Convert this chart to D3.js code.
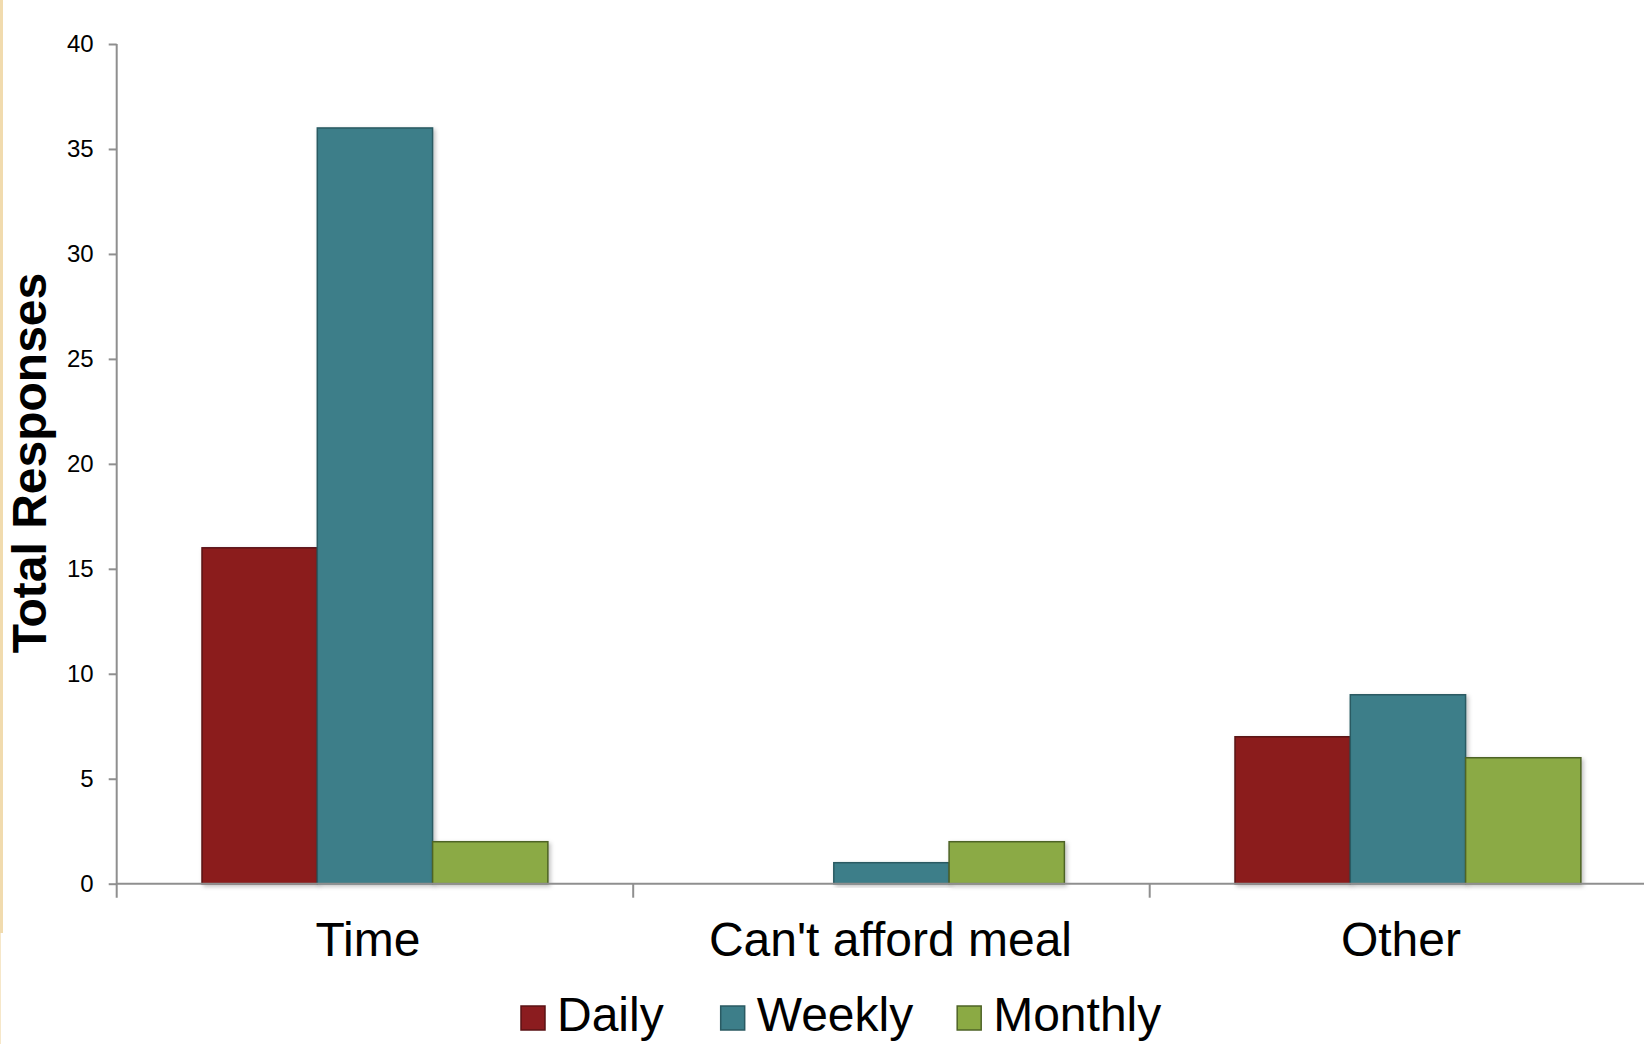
<!DOCTYPE html>
<html>
<head>
<meta charset="utf-8">
<script src="https://cdn.jsdelivr.net/npm/d3@7"></script>
<style>
  html, body { margin: 0; padding: 0; background: #ffffff; }
  svg { display: block; font-family: "Liberation Sans", Arial, sans-serif; }
</style>
</head>
<body>
<svg id="chart" width="1644" height="1044"></svg>
<script>
// Reasons given for not eating, by meal frequency
const categories = ["Time", "Can't afford meal", "Other"];
const seriesNames = ["Daily", "Weekly", "Monthly"];
const daily   = [16, 0, 7];
const weekly  = [36, 1, 9];
const monthly = [2, 2, 6];
const yTicks  = [0, 5, 10, 15, 20, 25, 30, 35, 40];

const fills   = { Daily: "#8b1c1f", Weekly: "#3d7e89", Monthly: "#8baa44" };
const strokes = { Daily: "#5a1214", Weekly: "#2a5a62", Monthly: "#4e6326" };

const seriesValues = { Daily: daily, Weekly: weekly, Monthly: monthly };
const rows = categories.map((c, i) => ({
  category: c,
  values: seriesNames.map(s => ({ series: s, value: seriesValues[s][i] }))
}));

const svg = d3.select("#chart");

// Side accent strip at the page edge
svg.append("rect").attr("x", 0).attr("y", 0).attr("width", 3).attr("height", 933).attr("fill", "#f1dbae");
svg.append("rect").attr("x", 0).attr("y", 933).attr("width", 1).attr("height", 111).attr("fill", "#f6e7c9");

const plotLeft = 116.7, plotBottom = 883.7, plotTop = 44;
const step = 516.5;

const x0 = d3.scaleBand().domain(categories).range([plotLeft, plotLeft + step * categories.length]).padding(0);
const x1 = d3.scaleBand().domain(seriesNames).range([0, x0.bandwidth()]).paddingInner(0).paddingOuter(0.74);
const y = d3.scaleLinear().domain([0, 40]).range([plotBottom, plotTop]);

// soft shadow under the bars
const defs = svg.append("defs");
const f = defs.append("filter").attr("id", "shadow").attr("x", "-10%").attr("y", "-10%").attr("width", "130%").attr("height", "130%");
f.append("feDropShadow").attr("dx", 2).attr("dy", 2).attr("stdDeviation", 2).attr("flood-color", "#000").attr("flood-opacity", 0.25);

// Bars
const groups = svg.append("g").selectAll("g").data(rows).join("g")
  .attr("transform", d => `translate(${x0(d.category)},0)`);
groups.selectAll("rect").data(d => d.values.filter(v => v.value > 0)).join("rect")
  .attr("x", d => x1(d.series))
  .attr("y", d => y(d.value))
  .attr("width", x1.bandwidth())
  .attr("height", d => y(0) - y(d.value))
  .attr("fill", d => fills[d.series])
  .attr("stroke", d => strokes[d.series])
  .attr("stroke-width", 1.5)
  .attr("filter", "url(#shadow)");

// Y axis
const yAxis = svg.append("g").attr("transform", `translate(${plotLeft},0)`)
  .call(d3.axisLeft(y).tickValues(yTicks).tickSize(8).tickPadding(15).tickSizeOuter(0));
yAxis.select(".domain").remove();
yAxis.append("line").attr("x1", 0).attr("x2", 0).attr("y1", plotTop).attr("y2", plotBottom + 14)
  .attr("stroke", "#8f8f8f").attr("stroke-width", 2);
yAxis.selectAll(".tick line").attr("stroke", "#8f8f8f").attr("stroke-width", 2);
yAxis.selectAll(".tick text").attr("font-size", 24).attr("fill", "#000")
  .attr("font-family", "'Liberation Sans', Arial, sans-serif");

// X axis
const xAxis = svg.append("g").attr("transform", `translate(0,${plotBottom})`);
xAxis.append("line").attr("x1", plotLeft).attr("x2", 1644).attr("y1", 0).attr("y2", 0)
  .attr("stroke", "#8f8f8f").attr("stroke-width", 2);
xAxis.selectAll("line.cat").data(categories.slice(1)).join("line").attr("class", "cat")
  .attr("x1", d => x0(d)).attr("x2", d => x0(d)).attr("y1", 0).attr("y2", 14)
  .attr("stroke", "#8f8f8f").attr("stroke-width", 2);
xAxis.selectAll("text").data(categories).join("text")
  .attr("x", (d, i) => x0(d) + x0.bandwidth() / 2 - (i === 1 ? 1 : 7))
  .attr("y", 72)
  .attr("text-anchor", "middle")
  .attr("font-size", 48)
  .attr("fill", "#000")
  .text(d => d);

// Y axis title
svg.append("text")
  .attr("transform", `translate(46,463) rotate(-90)`)
  .attr("text-anchor", "middle")
  .attr("font-size", 48)
  .attr("font-weight", "bold")
  .attr("fill", "#000")
  .text("Total Responses");

// Legend: swatch + label, laid out left to right from the first swatch
const legend = svg.append("g").attr("transform", "translate(0,1031)");
const items = legend.selectAll("g").data(seriesNames).join("g");
items.append("rect").attr("x", 0).attr("y", -25).attr("width", 24).attr("height", 24)
  .attr("fill", d => fills[d]).attr("stroke", d => strokes[d]).attr("stroke-width", 1.5);
items.append("text").attr("x", 36).attr("y", 0).attr("font-size", 48).attr("fill", "#000").text(d => d);
const gaps = [57, 44];
let cursor = 521;
items.each(function (d, i) {
  d3.select(this).attr("transform", `translate(${cursor},0)`);
  cursor += 36 + this.querySelector("text").getComputedTextLength() + (gaps[i] || 0);
});
</script>
</body>
</html>
